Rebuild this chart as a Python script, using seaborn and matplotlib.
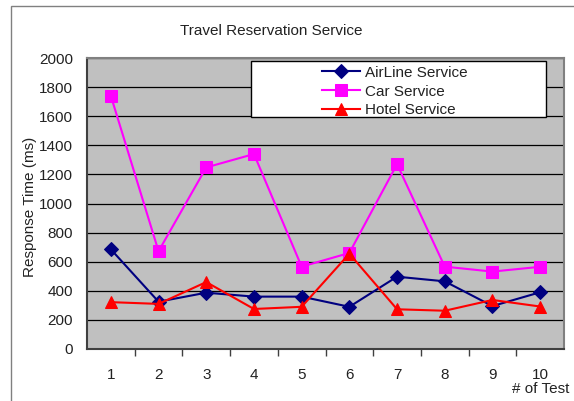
import matplotlib
matplotlib.use("Agg")
import matplotlib.pyplot as plt
from matplotlib.patches import Rectangle
import numpy as np
import pandas as pd
import seaborn as sns

tests = [1, 2, 3, 4, 5, 6, 7, 8, 9, 10]
airline = [685, 325, 387, 360, 360, 290, 497, 465, 295, 390]
car = [1740, 672, 1248, 1340, 566, 660, 1270, 566, 532, 565]
hotel = [322, 310, 460, 275, 290, 655, 273, 263, 337, 292]
series_names = ["AirLine Service", "Car Service", "Hotel Service"]
y_ticks = [0, 200, 400, 600, 800, 1000, 1200, 1400, 1600, 1800, 2000]

df = pd.DataFrame({
    "test": tests * 3,
    "value": airline + car + hotel,
    "series": np.repeat(series_names, len(tests)),
})

plt.rcParams["font.family"] = ["Liberation Sans", "DejaVu Sans"]

fig = plt.figure(figsize=(5.74, 4.01), dpi=100)
W, H = 574, 401
AX_L, AX_R, AX_T, AX_B = 87, 564, 58, 349
ax = fig.add_axes([AX_L / W, 1 - AX_B / H, (AX_R - AX_L) / W, (AX_B - AX_T) / H])


def ax_x(px):
    return (px - AX_L) / (AX_R - AX_L)


def ax_y(py):
    return (AX_B - py) / (AX_B - AX_T)


# outer chart frame
fig.patches.append(Rectangle((11 / W, -0.05), 1.2, 1 - 5.5 / H + 0.05,
                             transform=fig.transFigure, fill=False,
                             edgecolor="#808080", linewidth=1.0))

ax.set_facecolor("#C0C0C0")
for y in y_ticks[1:]:
    ax.axhline(y, color="black", linewidth=0.9, zorder=1)

palette = {"AirLine Service": "#000080", "Car Service": "#FF00FF",
           "Hotel Service": "#FF0000"}
markers = {"AirLine Service": "D", "Car Service": "s", "Hotel Service": "^"}
sizes = {"AirLine Service": 7, "Car Service": 8.5, "Hotel Service": 9}

for name in series_names:
    sub = df[df["series"] == name]
    sns.lineplot(data=sub, x="test", y="value", ax=ax, color=palette[name],
                 marker=markers[name], markersize=sizes[name],
                 markeredgecolor=palette[name], linewidth=1.5,
                 label=name, zorder=3)

ax.set_xlim(0.5, 10.5)
ax.set_ylim(0, 2000)
ax.set_yticks(y_ticks)
ax.set_yticklabels([str(v) for v in y_ticks], fontsize=11, color="#222222")
ax.set_xticks(tests)
ax.set_xticklabels([str(t) for t in tests], fontsize=11, color="#222222")
ax.tick_params(axis="x", length=0, pad=14)
ax.tick_params(axis="y", length=0, pad=10)
ax.set_xticks(np.arange(1.5, 10.5, 1), minor=True)
ax.tick_params(axis="x", which="minor", length=5, direction="out",
               color="#404040", width=1)
ax.set_xlabel("")
ax.set_ylabel("")

for side in ["left", "bottom"]:
    ax.spines[side].set_color("#404040")
    ax.spines[side].set_linewidth(1.5)
for side in ["top", "right"]:
    ax.spines[side].set_color("#808080")
    ax.spines[side].set_linewidth(1.5)

# legend box
ax.add_patch(Rectangle((ax_x(251), ax_y(116.5)), ax_x(546) - ax_x(251),
                       ax_y(60.5) - ax_y(116.5), transform=ax.transAxes,
                       facecolor="white", edgecolor="black", linewidth=1.0,
                       zorder=4))
leg = ax.legend(loc="center left", bbox_to_anchor=(ax_x(322), ax_y(91.5)),
                frameon=False, fontsize=11, borderpad=0, borderaxespad=0,
                labelspacing=0.32, handlelength=2.5, handletextpad=0.3)
leg.set_zorder(5)
for t in leg.get_texts():
    t.set_color("#222222")

fig.text(271 / W, 1 - 31 / H, "Travel Reservation Service", ha="center",
         va="center", fontsize=11, color="#222222")
fig.text(30 / W, 1 - 207 / H, "Response Time (ms)", rotation=90,
         ha="center", va="center", fontsize=11, color="#222222")
fig.text(512 / W, 1 - 389 / H, "# of Test", ha="left", va="center",
         fontsize=11, color="#222222")

fig.savefig("out.png", dpi=100, facecolor="white")
